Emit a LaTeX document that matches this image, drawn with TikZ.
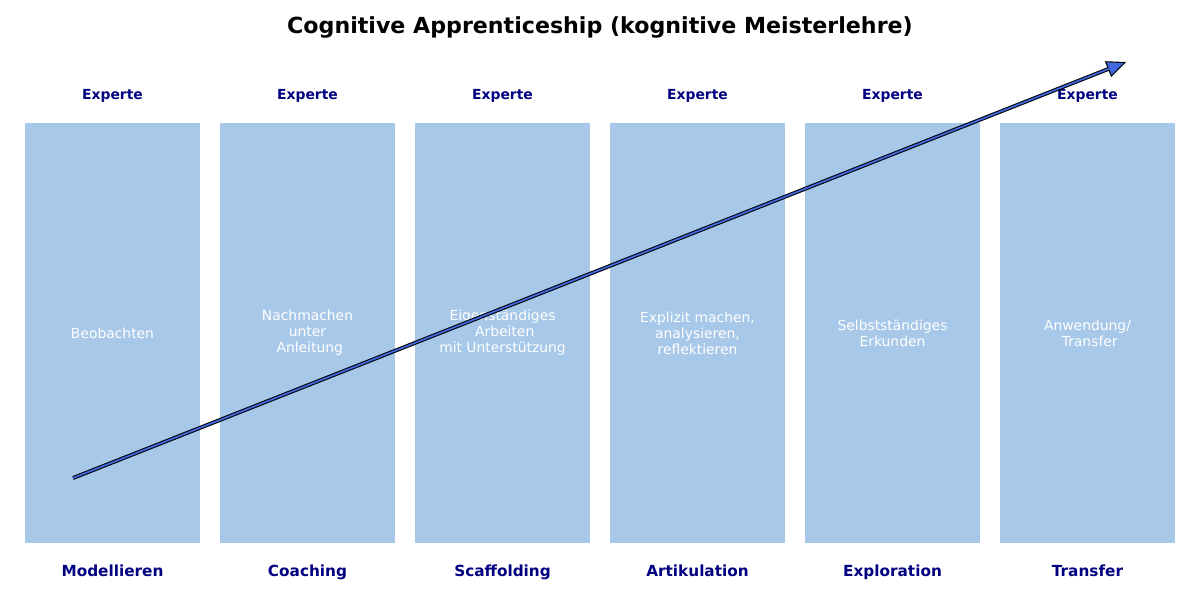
\documentclass[tikz,border=0pt]{standalone}
\usepackage{fontspec}
\setmainfont{DejaVu Sans}
\usetikzlibrary{arrows.meta}

\definecolor{boxblue}{RGB}{167,200,233}
\definecolor{labelnavy}{RGB}{0,0,128}
\definecolor{arrowblue}{RGB}{65,105,225}

\tikzset{
  phasebox/.style={fill=boxblue, text=white, align=center, inner sep=0pt,
    minimum width=3.5cm, minimum height=8.4cm,
    font=\fontsize{7.9}{9.1}\selectfont},
  expertlabel/.style={text=labelnavy, anchor=base, font=\fontsize{7.9}{9.45}\selectfont\bfseries},
  phaselabel/.style={text=labelnavy, anchor=base, font=\fontsize{8.7}{10.4}\selectfont\bfseries},
  titlelabel/.style={anchor=base, font=\fontsize{12.6}{15}\selectfont\bfseries},
  progressline/.style={draw=black, line width=2.2pt,
    -{Triangle[length=11pt, width=9.5pt, line width=0.6pt, fill=arrowblue]}},
  progresscore/.style={draw=arrowblue, line width=1pt, shorten >=10.5pt}
}

\begin{document}
\begin{tikzpicture}[x=0.02cm, y=-0.02cm]
  \useasboundingbox (0,0) rectangle (1200,600);

  \node[titlelabel] (title) at (600,33) {Cognitive Apprenticeship (kognitive Meisterlehre)};

  % the six phases, left to right
  \foreach \phase/\activity [count=\number] in {
      Modellieren/{Beobachten},
      Coaching/{Nachmachen\\unter\\\ Anleitung},
      Scaffolding/{Eigenständiges\\\ Arbeiten\\mit Unterstützung},
      Artikulation/{Explizit machen,\\analysieren,\\reflektieren},
      Exploration/{Selbstständiges\\Erkunden},
      Transfer/{Anwendung/\\\ Transfer}}{
    \node[phasebox] (P-\number) at ({112.5+195*(\number-1)},333) {\activity};
    \node[expertlabel] (E-\number) at ({112.5+195*(\number-1)},99.5) {Experte};
    \node[phaselabel] (L-\number) at ({112.5+195*(\number-1)},576) {\phase};
  }

  % growing independence
  \coordinate (start) at (73,478);
  \coordinate (end) at (1126,62);
  \draw[progressline] (start) -- (end);
  \draw[progresscore] (start) -- (end);
\end{tikzpicture}
\end{document}
